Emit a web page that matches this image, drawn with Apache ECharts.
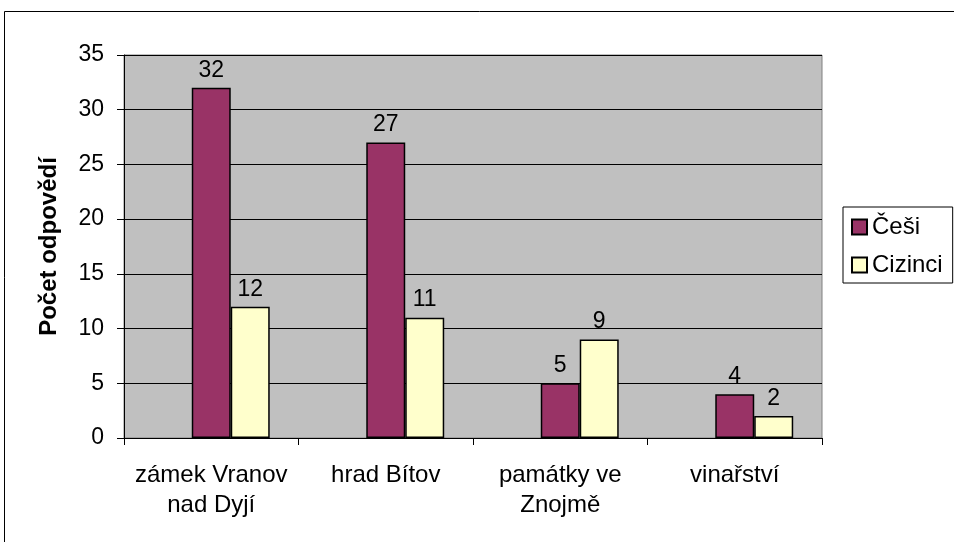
<!DOCTYPE html>
<html><head><meta charset="utf-8">
<script src="https://cdn.jsdelivr.net/npm/echarts@6/dist/echarts.min.js"></script>
<style>html,body{margin:0;padding:0;background:#fff}#c{width:954px;height:542px}</style>
</head><body><div id="c"></div>
<script>
const categories = ['zámek Vranov\nnad Dyjí', 'hrad Bítov', 'památky ve\nZnojmě', 'vinařství'];
const cesi = [32, 27, 5, 4];
const cizinci = [12, 11, 9, 2];
const empty = [null, null, null, null];
const yTicks = [0, 5, 10, 15, 20, 25, 30, 35];

const F = 'Liberation Sans, Arial, sans-serif';
const chart = echarts.init(document.getElementById('c'));
chart.setOption({
  animation: false,
  backgroundColor: '#fff',
  textStyle: { fontFamily: F },
  grid: { left: 124, top: 55, right: 132, bottom: 104, show: true, backgroundColor: '#C0C0C0', borderColor: '#808080', borderWidth: 1 },
  legend: {
    data: ['Češi', 'Cizinci'], orient: 'vertical', left: 843, top: 207,
    padding: [8, 10, 6, 8], itemGap: 14, itemWidth: 15, itemHeight: 15,
    borderColor: '#000', borderWidth: 1, backgroundColor: '#fff',
    icon: 'rect', textStyle: { fontSize: 24, color: '#000', fontFamily: F }
  },
  xAxis: {
    type: 'category', data: categories, boundaryGap: true,
    axisLine: { lineStyle: { color: '#000', width: 1 } },
    axisTick: { show: true, length: 7, inside: false, lineStyle: { color: '#000' } },
    axisLabel: { fontSize: 24, color: '#000', lineHeight: 30, margin: 22, interval: 0 }
  },
  yAxis: {
    type: 'value', min: yTicks[0], max: yTicks[yTicks.length - 1], interval: 5,
    name: 'Počet odpovědí', nameLocation: 'middle', nameGap: 63,
    nameTextStyle: { fontSize: 24, fontWeight: 'bold', color: '#000', fontFamily: F },
    axisLine: { show: true, lineStyle: { color: '#000', width: 1 } },
    axisTick: { show: true, length: 7, lineStyle: { color: '#000' } },
    axisLabel: { fontSize: 23, color: '#000', margin: 20 },
    splitLine: { show: true, lineStyle: { color: '#000', width: 1 } }
  },
  series: [
    { name: '', type: 'bar', data: empty, barGap: 0, barCategoryGap: '33%' },
    { name: 'Češi', type: 'bar', data: cesi, barGap: 0, barCategoryGap: '33%',
      itemStyle: { color: '#993366', borderColor: '#000', borderWidth: 1.5 },
      label: { show: true, position: 'top', distance: 6, fontSize: 23, color: '#000' } },
    { name: 'Cizinci', type: 'bar', data: cizinci, barGap: 0, barCategoryGap: '33%',
      itemStyle: { color: '#FFFFCC', borderColor: '#000', borderWidth: 1.5 },
      label: { show: true, position: 'top', distance: 6, fontSize: 23, color: '#000' } }
  ],
  graphic: [
    { type: 'rect', z: -10, shape: { x: 4.5, y: 11.5, width: 1000, height: 1000 }, style: { fill: 'none', stroke: '#000', lineWidth: 1 } }
  ]
});
</script></body></html>
